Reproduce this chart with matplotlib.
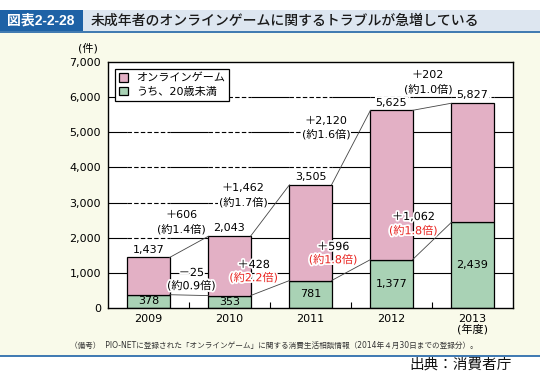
import matplotlib
matplotlib.use("Agg")
import matplotlib.pyplot as plt
import matplotlib.patheffects as pe
from matplotlib.patches import Rectangle

plt.rcParams['font.family'] = ['DejaVu Sans', 'Noto Sans CJK JP']

years = ["2009", "2010", "2011", "2012", "2013"]
online_total = [1437, 2043, 3505, 5625, 5827]
under20 = [378, 353, 781, 1377, 2439]

# where the year-on-year notes sit: (x, y of upper line, y of lower line)
total_note_pos = [(0.41, 2646, 2248), (1.17, 3415, 3016), (2.19, 5321, 4951), (3.45, 6630, 6232)]
under20_note_pos = [(0.53, 996, 626), (1.30, 1224, 854), (2.28, 1736, 1366), (3.27, 2589, 2191)]

PINK = "#e3b0c5"
GREEN = "#a9d2b5"
CREAM = "#f9faea"
NAVY = "#1e62a6"
W = 0.52
FS = 8


def change_text(a, b):
    d = b - a
    sign = "＋" if d >= 0 else "－"
    return "{}{:,}".format(sign, abs(d)), "(約{:.1f}倍)".format(b / a)


def main():
    fig = plt.figure(figsize=(5.4, 3.81), dpi=100)
    fig.patch.set_facecolor("white")
    H = 381.0

    # header + backgrounds
    fig.patches.append(Rectangle((0, 1 - 356 / H), 1, (356 - 31) / H, transform=fig.transFigure,
                                 facecolor=CREAM, edgecolor="none", zorder=-3))
    fig.patches.append(Rectangle((83 / 540, 1 - 31 / H), 1, 21 / H, transform=fig.transFigure,
                                 facecolor="#dde6f0", edgecolor="none", zorder=-3))
    fig.patches.append(Rectangle((0, 1 - 31 / H), 83 / 540, 21 / H, transform=fig.transFigure,
                                 facecolor=NAVY, edgecolor="none", zorder=-2))
    fig.add_artist(plt.Line2D([0, 1], [1 - 31.5 / H] * 2, color=NAVY, lw=1.2, transform=fig.transFigure))
    fig.add_artist(plt.Line2D([0, 1], [1 - 355.5 / H] * 2, color=NAVY, lw=1.2, transform=fig.transFigure))
    fig.text(41 / 540, 1 - 21 / H, "図表2-2-28", color="white", fontsize=10, fontweight="bold",
             family=["Liberation Sans", "Noto Sans CJK JP"], ha="center", va="center")
    fig.text(91 / 540, 1 - 21 / H, "未成年者のオンラインゲームに関するトラブルが急増している",
             color="#1a1a1a", fontsize=10, fontweight="medium", ha="left", va="center")
    fig.text(70 / 540, 1 - 345 / H,
             "（備考）  PIO-NETに登録された「オンラインゲーム」に関する消費生活相談情報（2014年４月30日までの登録分）。",
             fontsize=5.5, color="#333333", ha="left", va="center")
    fig.text(512 / 540, 1 - 364 / H, "出典：消費者庁", fontsize=10.5, color="#111111",
             ha="right", va="center")

    ax = fig.add_axes([108 / 540, 1 - 308 / H, 405 / 540, 246 / H])
    ax.set_zorder(2)
    ax.set_facecolor("white")
    x = list(range(len(years)))

    # grid: solid in the gaps, dashed across the bar columns
    for gy in range(1000, 7000, 1000):
        edges = [-0.5]
        for i in x:
            edges += [i - W / 2, i + W / 2]
        edges.append(len(years) - 0.5)
        for k in range(len(edges) - 1):
            ls = "-" if k % 2 == 0 else (0, (4, 2))
            ax.hlines(gy, edges[k], edges[k + 1], colors="black", lw=0.8, linestyles=ls, zorder=1)

    upper = [t - u for t, u in zip(online_total, under20)]
    ax.bar(x, under20, width=W, color=GREEN, edgecolor="black", lw=0.9, zorder=3,
           label="うち、20歳未満")
    ax.bar(x, upper, width=W, bottom=under20, color=PINK, edgecolor="black", lw=0.9, zorder=3,
           label="オンラインゲーム")

    for i in x[:-1]:
        ax.plot([i + W / 2, i + 1 - W / 2], [online_total[i], online_total[i + 1]],
                color="#444444", lw=0.6, zorder=4)
        ax.plot([i + W / 2, i + 1 - W / 2], [under20[i], under20[i + 1]],
                color="#444444", lw=0.6, zorder=4)

    box = dict(facecolor="white", edgecolor="none", pad=0.5)
    halo = [pe.withStroke(linewidth=2.5, foreground="white")]

    for i in x:
        ax.annotate("{:,}".format(online_total[i]), (i, online_total[i]), xytext=(0, 2),
                    textcoords="offset points", ha="center", va="bottom", fontsize=FS,
                    bbox=box, zorder=5)
        ax.text(i, under20[i] / 2, "{:,}".format(under20[i]), ha="center", va="center",
                fontsize=FS, zorder=5)

    for i in x[:-1]:
        top, bot = change_text(online_total[i], online_total[i + 1])
        px, y1, y2 = total_note_pos[i]
        ax.text(px, y1, top, ha="center", va="center", fontsize=FS, bbox=box, zorder=5)
        ax.text(px, y2, bot, ha="center", va="center", fontsize=FS, bbox=box, zorder=5)

        top, bot = change_text(under20[i], under20[i + 1])
        red = under20[i + 1] > under20[i]
        px, y1, y2 = under20_note_pos[i]
        ax.text(px, y1, top, ha="center", va="center", fontsize=FS, zorder=5, path_effects=halo)
        ax.text(px, y2, bot, ha="center", va="center", fontsize=FS, zorder=5, path_effects=halo,
                color="#e8231f" if red else "black")

    ax.set_xlim(-0.5, len(years) - 0.5)
    ax.set_ylim(0, 7000)
    ax.set_yticks(range(0, 7001, 1000))
    ax.set_yticklabels(["{:,}".format(v) for v in range(0, 7001, 1000)], fontsize=FS)
    ax.tick_params(axis="y", length=0, pad=5)
    ax.set_xticks(x)
    ax.set_xticklabels(years[:-1] + [years[-1] + "\n(年度)"], fontsize=FS, linespacing=1.0)
    ax.tick_params(axis="x", length=0, pad=4)
    ax.set_xticks([i + 0.5 for i in x[:-1]], minor=True)
    ax.tick_params(axis="x", which="minor", direction="in", length=4, width=0.8)
    for s in ax.spines.values():
        s.set_linewidth(1.0)
        s.set_color("black")
        s.set_zorder(6)

    ax.text(-0.049, 1.057, "(件)", transform=ax.transAxes, ha="center", va="center", fontsize=FS)

    h, l = ax.get_legend_handles_labels()
    leg = ax.legend(h[::-1], l[::-1], loc="upper left", bbox_to_anchor=(0.017, 0.972),
                    fontsize=8, fancybox=False, edgecolor="black", framealpha=1,
                    handlelength=0.8, handleheight=0.8, handletextpad=0.7,
                    borderpad=0.4, labelspacing=0.3, borderaxespad=0)
    leg.get_frame().set_linewidth(0.9)
    leg.set_zorder(7)

    fig.savefig("out.png", dpi=100, facecolor=fig.get_facecolor())


if __name__ == "__main__":
    main()
